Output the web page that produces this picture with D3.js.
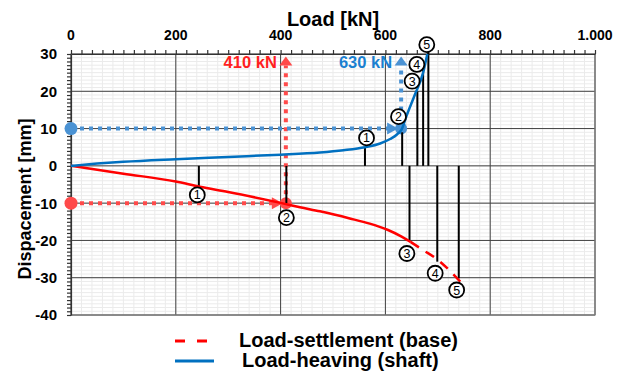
<!DOCTYPE html>
<html>
<head>
<meta charset="utf-8">
<script src="https://cdn.jsdelivr.net/npm/d3@7"></script>
<style>
  body { margin: 0; background: #fff; }
  text { font-family: "Liberation Sans", Arial, sans-serif; font-weight: bold; }
</style>
</head>
<body>
<svg id="chart" width="623" height="372"></svg>
<script>
// load [kN] vs displacement [mm]
var heaveLoad = [0, 50, 100, 200, 300, 400, 475, 520, 561, 590, 609, 622, 631, 640, 656, 672, 680];
var heaveDisp = [0, 0.6, 1.1, 1.8, 2.4, 3.0, 3.6, 4.2, 5.0, 6.0, 7.2, 8.4, 9.8, 13.3, 19, 25, 30];

var settleLoad = [0, 100, 200, 246, 300, 402, 437, 475, 532, 570, 605, 630, 648];
var settleDisp = [0, -2.1, -4.2, -5.6, -7.0, -10, -11.1, -12.2, -14.1, -15.5, -17.2, -18.9, -20.4];

var settleDashLoad = [648, 672, 698, 749];
var settleDashDisp = [-20.4, -22.6, -25.0, -32.0];

// numbered measuring stems
var upStemLoad = [561, 632, 661, 672, 682];
var upStemTop = [4.8, 9.0, 20, 25.8, 31];
var upLabelLoad = [564, 625, 651, 660, 679];
var upLabelDisp = [7.5, 13.2, 22.7, 27.2, 32.5];

var downStemLoad = [244, 411, 646, 699, 740];
var downStemBottom = [-5.8, -10, -20.3, -25.7, -30.2];
var downLabelLoad = [241, 411, 641, 695, 736];
var downLabelDisp = [-7.8, -13.9, -23.5, -28.8, -33.3];
var stemNames = ["1", "2", "3", "4", "5"];

// reference loads
var refLoads = [410, 630];
var refDisp = [-10, 10];
var refNames = ["410 kN", "630 kN"];
var refTop = 29.3;

var xTicks = [0, 200, 400, 600, 800, 1000];
var xTickLabels = ["0", "200", "400", "600", "800", "1.000"];
var yTicks = [30, 20, 10, 0, -10, -20, -30, -40];

var svg = d3.select("#chart");
var pLeft = 71, pRight = 595, pTop = 54, pBottom = 315;

var x = d3.scaleLinear().domain([0, 1000]).range([pLeft, pRight]);
var y = d3.scaleLinear().domain([-40, 30]).range([pBottom, pTop]);

var RED = "#ff0000", RED_L = "#ff4a4a", BLUE = "#0070c0", BLUE_L = "#4a92d3";

// minor grid
var g = svg.append("g");
g.selectAll(".mx").data(d3.range(0, 1001, 20)).enter().append("line")
  .attr("x1", d => x(d)).attr("x2", d => x(d)).attr("y1", pTop).attr("y2", pBottom)
  .attr("stroke", "#ebebeb").attr("stroke-width", 1);
g.selectAll(".my").data(d3.range(-40, 31, 1)).enter().append("line")
  .attr("y1", d => y(d)).attr("y2", d => y(d)).attr("x1", pLeft).attr("x2", pRight)
  .attr("stroke", "#ebebeb").attr("stroke-width", 1);
// major grid
g.selectAll(".Mx").data(xTicks).enter().append("line")
  .attr("x1", d => x(d)).attr("x2", d => x(d)).attr("y1", pTop).attr("y2", pBottom)
  .attr("stroke", "#404040").attr("stroke-width", 1);
g.selectAll(".My").data(yTicks).enter().append("line")
  .attr("y1", d => y(d)).attr("y2", d => y(d)).attr("x1", pLeft).attr("x2", pRight)
  .attr("stroke", "#404040").attr("stroke-width", 1);
svg.append("rect").attr("x", pLeft).attr("y", pTop).attr("width", pRight - pLeft).attr("height", pBottom - pTop)
  .attr("fill", "none").attr("stroke", "#808080").attr("stroke-width", 1.2);

// axes
var xAxis = d3.axisTop(x).tickValues(d3.range(0, 1001, 20)).tickSize(4).tickSizeOuter(0).tickFormat("");
svg.append("g").attr("transform", "translate(0," + pTop + ")").call(xAxis)
  .call(s => s.selectAll("line,path").attr("stroke", "#333").attr("stroke-width", 1.2));
var yAxis = d3.axisLeft(y).tickValues(d3.range(-40, 31, 1)).tickSize(4).tickSizeOuter(0).tickFormat("");
svg.append("g").attr("transform", "translate(" + pLeft + ",0)").call(yAxis)
  .call(s => s.selectAll("line,path").attr("stroke", "#333").attr("stroke-width", 1.2));

svg.selectAll(".xl").data(xTicks).enter().append("text")
  .attr("x", d => x(d)).attr("y", 40).attr("text-anchor", "middle")
  .attr("font-size", 14).text((d, i) => xTickLabels[i]);
svg.selectAll(".yl").data(yTicks).enter().append("text")
  .attr("x", 57).attr("y", d => y(d)).attr("dy", "0.36em").attr("text-anchor", "end")
  .attr("font-size", 15).text(d => d);

svg.append("text").attr("x", (pLeft + pRight) / 2).attr("y", 26).attr("text-anchor", "middle")
  .attr("font-size", 20).text("Load [kN]");
svg.append("text").attr("transform", "translate(31," + 199 + ") rotate(-90)")
  .attr("text-anchor", "middle").attr("font-size", 18).text("Dispacement [mm]");

// reference dotted arrows
var refColors = [RED_L, BLUE_L];
refLoads.forEach(function (L, i) {
  var c = refColors[i];
  svg.append("line").attr("x1", x(0)).attr("x2", x(L) - 10).attr("y1", y(refDisp[i])).attr("y2", y(refDisp[i]))
    .attr("stroke", c).attr("stroke-width", 4).attr("stroke-dasharray", "4,5");
  svg.append("line").attr("x1", x(L)).attr("x2", x(L)).attr("y1", y(refDisp[i])).attr("y2", y(refTop) + 9)
    .attr("stroke", c).attr("stroke-width", 4).attr("stroke-dasharray", "4,5");
  // arrow heads
  svg.append("path").attr("fill", c)
    .attr("d", "M" + (x(L) - 3) + "," + y(refDisp[i]) + " l-11,-6 l0,12 z");
  svg.append("path").attr("fill", c)
    .attr("d", "M" + x(L) + "," + y(refTop) + " l6.5,9 l-13,0 z");
  svg.append("circle").attr("cx", x(0)).attr("cy", y(refDisp[i])).attr("r", 6.5).attr("fill", c);
  svg.append("circle").attr("cx", x(L)).attr("cy", y(refDisp[i])).attr("r", 6).attr("fill", c);
  svg.append("text").attr("x", x(L) - 9).attr("y", y(refTop) + 11.5).attr("text-anchor", "end")
    .attr("font-size", 16.5).attr("fill", i === 0 ? "#ff2020" : "#1a7fd0").text(refNames[i]);
});

// stems
svg.selectAll(".su").data(upStemLoad).enter().append("line")
  .attr("x1", d => x(d)).attr("x2", d => x(d)).attr("y1", y(0)).attr("y2", (d, i) => y(upStemTop[i]))
  .attr("stroke", "#000").attr("stroke-width", 2);
svg.selectAll(".sd").data(downStemLoad).enter().append("line")
  .attr("x1", d => x(d)).attr("x2", d => x(d)).attr("y1", y(0)).attr("y2", (d, i) => y(downStemBottom[i]))
  .attr("stroke", "#000").attr("stroke-width", 2);

// curves
var line = d3.line().x(d => x(d[0])).y(d => y(d[1])).curve(d3.curveMonotoneX);
svg.append("path").datum(d3.zip(settleLoad, settleDisp)).attr("d", line)
  .attr("fill", "none").attr("stroke", RED).attr("stroke-width", 2.5);
svg.append("path").datum(d3.zip(settleDashLoad, settleDashDisp)).attr("d", line)
  .attr("fill", "none").attr("stroke", RED).attr("stroke-width", 2.5).attr("stroke-dasharray", "10,8");
svg.append("path").datum(d3.zip(heaveLoad, heaveDisp)).attr("d", line)
  .attr("fill", "none").attr("stroke", BLUE).attr("stroke-width", 2.5);

// circled numbers
function labels(loads, disps) {
  var lg = svg.append("g").selectAll("g").data(loads).enter().append("g")
    .attr("transform", (d, i) => "translate(" + x(d) + "," + y(disps[i]) + ")");
  lg.append("circle").attr("r", 7.5).attr("fill", "#fff").attr("stroke", "#000").attr("stroke-width", 1.8);
  lg.append("text").attr("text-anchor", "middle").attr("dy", "0.36em").attr("font-size", 12.5)
    .style("font-weight", "normal").text((d, i) => stemNames[i]);
}
labels(upLabelLoad, upLabelDisp);
labels(downLabelLoad, downLabelDisp);

// legend
var legend = [
  { name: "Load-settlement (base)", color: RED, dash: "10,12", y: 341, tx: 239 },
  { name: "Load-heaving (shaft)", color: BLUE, dash: null, y: 361, tx: 242 }
];
legend.forEach(function (d) {
  svg.append("line").attr("x1", 175).attr("x2", d.dash ? 207 : 214).attr("y1", d.y).attr("y2", d.y)
    .attr("stroke", d.color).attr("stroke-width", 3).attr("stroke-dasharray", d.dash);
  svg.append("text").attr("x", d.tx).attr("y", d.y + 6).attr("font-size", 20).text(d.name);
});
</script>
</body>
</html>
